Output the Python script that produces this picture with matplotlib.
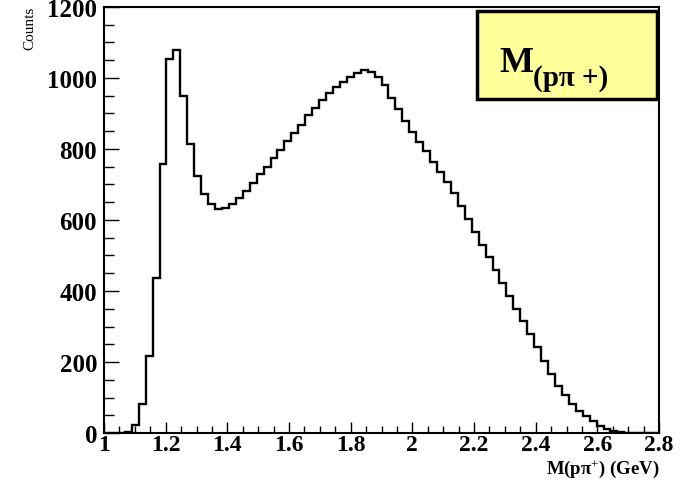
import numpy as np
import matplotlib
matplotlib.use("Agg")
import matplotlib.pyplot as plt
from matplotlib.ticker import MultipleLocator, FuncFormatter

# ---- data ----
x_min, x_max, n_bins = 1.0, 2.8, 80
counts = [0, 0, 0, 4, 23, 83, 217, 438, 758, 1054,
          1080, 950, 814, 724, 673, 645, 631, 634, 645, 661,
          682, 705, 729, 750, 774, 798, 822, 845, 867, 895,
          916, 937, 959, 974, 990, 1003, 1015, 1023, 1018, 1002,
          979, 945, 912, 880, 849, 821, 793, 764, 736, 707,
          675, 640, 603, 567, 530, 495, 458, 423, 387, 350,
          316, 279, 241, 202, 166, 133, 106, 83, 63, 47,
          34, 21, 11, 5, 2, 0, 0, 0, 0, 0]
y_lim = (0, 1200)
x_label = "M(p$\\mathbf{\\pi}^{+}$) (GeV)"
y_label = "Counts"

serif = ["Liberation Serif", "DejaVu Serif"]
plt.rcParams['mathtext.fontset'] = 'custom'
plt.rcParams['mathtext.rm'] = 'Liberation Serif'
plt.rcParams['mathtext.bf'] = 'Liberation Serif:bold'
plt.rcParams['mathtext.it'] = 'Liberation Serif:italic'

fig = plt.figure(figsize=(6.86, 4.81), dpi=100)
ax = fig.add_axes([104/686, 1-434/481, (659-104)/686, (434-8)/481])

edges = np.linspace(x_min, x_max, n_bins + 1)
ax.stairs(counts, edges, color="black", linewidth=1.7, baseline=0)

ax.set_xlim(x_min, x_max)
ax.set_ylim(*y_lim)

ax.xaxis.set_major_locator(MultipleLocator(0.2))
ax.xaxis.set_minor_locator(MultipleLocator(0.05))
ax.yaxis.set_major_locator(MultipleLocator(200))
ax.yaxis.set_minor_locator(MultipleLocator(50))
ax.xaxis.set_major_formatter(FuncFormatter(lambda v, p: "%g" % round(v, 3)))
ax.yaxis.set_major_formatter(FuncFormatter(lambda v, p: "%d" % round(v)))

ax.tick_params(axis='both', which='both', direction='in', top=False, right=False,
               color='black', width=1.0)
ax.tick_params(axis='y', which='major', length=11, pad=5)
ax.tick_params(axis='y', which='minor', length=7)
ax.tick_params(axis='x', which='major', length=8, pad=1)
ax.tick_params(axis='x', which='minor', length=5)

for lbl in ax.get_yticklabels():
    lbl.set_fontfamily(serif)
    lbl.set_fontweight('bold')
    lbl.set_fontsize(18)
for lbl in ax.get_xticklabels():
    lbl.set_fontfamily(serif)
    lbl.set_fontweight('bold')
    lbl.set_fontsize(17)

for s in ax.spines.values():
    s.set_linewidth(1.5)
    s.set_color('black')

# axis titles (ROOT style: at the ends)
fig.text(0.044, 1-7/481, y_label, rotation=90, ha='center', va='top',
         fontfamily=serif, fontsize=11)
fig.text(660/686, 1-480.5/481, x_label, ha='right', va='bottom',
         fontfamily=serif, fontweight='bold', fontsize=13.5)

# label box
box = plt.Rectangle((477/686, 1-100/481), (657-477)/686, (100-12)/481,
                    transform=fig.transFigure, facecolor='#ffff99',
                    edgecolor='black', linewidth=2.5, zorder=5)
fig.patches.append(box)
fig.text(499/686, 1-72/481, "M", ha='left', va='baseline',
         fontfamily=serif, fontweight='bold', fontsize=26, zorder=6)
fig.text(533/686, 1-86/481, "(p\u03c0 +)", ha='left', va='baseline',
         fontfamily=serif, fontweight='bold', fontsize=21, zorder=6)

fig.savefig("out.png", dpi=100)
